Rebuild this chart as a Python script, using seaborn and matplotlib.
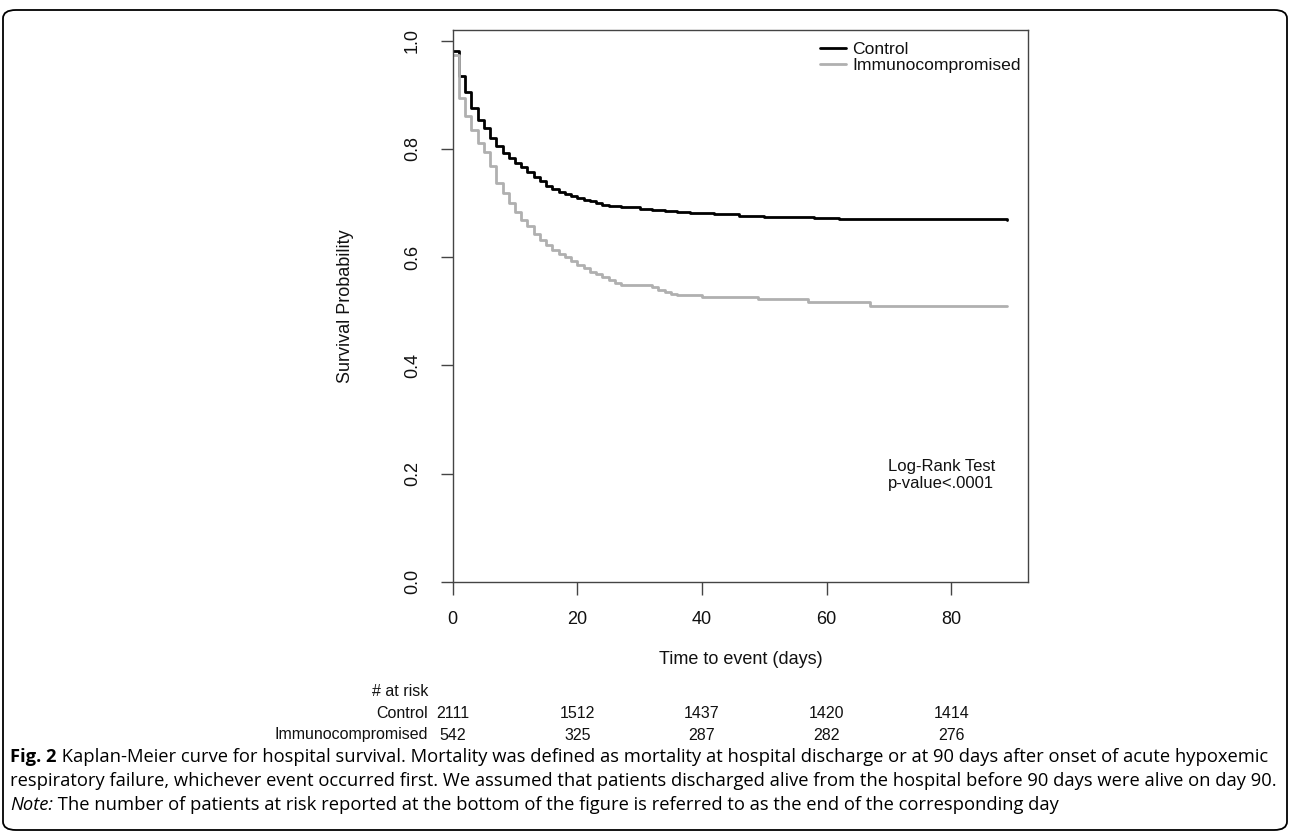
import numpy as np
import pandas as pd
import matplotlib
matplotlib.use("Agg")
import matplotlib.pyplot as plt
from matplotlib.patches import FancyBboxPatch
import seaborn as sns

# ---------------- data ----------------
control_t = [0, 1, 2, 3, 4, 5, 6, 7, 8, 9, 10, 11, 12, 13, 14, 15, 16, 17, 18, 19,
             20, 21, 22, 23, 24, 25, 26, 27, 28, 30, 32, 34, 36, 38, 42, 46, 50,
             54, 58, 62, 70, 89]
control_s = [0.981, 0.935, 0.906, 0.876, 0.854, 0.839, 0.820, 0.806, 0.793, 0.783,
             0.774, 0.766, 0.758, 0.749, 0.740, 0.731, 0.726, 0.721, 0.717, 0.714,
             0.710, 0.706, 0.703, 0.700, 0.697, 0.695, 0.694, 0.693, 0.692, 0.689,
             0.687, 0.686, 0.684, 0.681, 0.679, 0.677, 0.675, 0.674, 0.672, 0.671,
             0.670, 0.669]

immuno_t = [0, 1, 2, 3, 4, 5, 6, 7, 8, 9, 10, 11, 12, 13, 14, 15, 16, 17, 18, 19,
            20, 21, 22, 23, 24, 25, 26, 27, 32, 33, 34, 35, 36, 40, 49, 57, 67, 89]
immuno_s = [0.973, 0.894, 0.861, 0.836, 0.811, 0.795, 0.769, 0.738, 0.718, 0.701,
            0.684, 0.669, 0.657, 0.643, 0.632, 0.623, 0.613, 0.606, 0.600, 0.592,
            0.586, 0.580, 0.573, 0.569, 0.563, 0.558, 0.553, 0.549, 0.544, 0.539,
            0.535, 0.531, 0.530, 0.527, 0.523, 0.518, 0.510, 0.510]

group_names = ["Control", "Immunocompromised"]
x_ticks = [0, 20, 40, 60, 80]
y_ticks = [0.0, 0.2, 0.4, 0.6, 0.8, 1.0]
risk_control = [2111, 1512, 1437, 1420, 1414]
risk_immuno = [542, 325, 287, 282, 276]

caption1_bold = "Fig. 2"
caption1 = (" Kaplan-Meier curve for hospital survival. Mortality was defined as mortality "
            "at hospital discharge or at 90 days after onset of acute hypoxemic")
caption2 = ("respiratory failure, whichever event occurred first. We assumed that patients "
            "discharged alive from the hospital before 90 days were alive on day 90.")
caption3_it = "Note:"
caption3 = (" The number of patients at risk reported at the bottom of the figure is "
            "referred to as the end of the corresponding day")

# ---------------- style ----------------
sns.set_theme(style="white")
plt.rcParams["font.family"] = ["Liberation Sans", "DejaVu Sans"]

W, H = 1290, 833
fig = plt.figure(figsize=(W / 100, H / 100), dpi=100)

def fx(px):
    return px / W

def fy(py):
    return 1 - py / H

ax_l, ax_r, ax_t, ax_b = 452.7, 1028, 30, 581.7
ax = fig.add_axes([fx(ax_l), fy(ax_b), fx(ax_r - ax_l), (ax_b - ax_t) / H])

df_c = pd.DataFrame({"time": control_t, "surv": control_s})
df_i = pd.DataFrame({"time": immuno_t, "surv": immuno_s})

sns.lineplot(data=df_c, x="time", y="surv", ax=ax, color="#000000", lw=2.0,
             drawstyle="steps-post", estimator=None, label=group_names[0])
sns.lineplot(data=df_i, x="time", y="surv", ax=ax, color="#b0b0b0", lw=2.0,
             drawstyle="steps-post", estimator=None, label=group_names[1])

ax.set_xlim(0, 92.3)
ax.set_ylim(0, 1.02)
ax.set_xticks(x_ticks)
ax.set_yticks(y_ticks)
ax.set_xticklabels([str(v) for v in x_ticks])
ax.set_yticklabels([f"{v:.1f}" for v in y_ticks], rotation=90, va="center")
ax.tick_params(axis="both", which="major", direction="out", length=9,
               width=1.0, color="#444444", labelsize=13, labelcolor="#111111",
               bottom=True, left=True)
ax.tick_params(axis="x", pad=12)
ax.tick_params(axis="y", pad=14)
for sp in ax.spines.values():
    sp.set_color("#444444")
    sp.set_linewidth(1.0)
ax.set_xlabel("")
ax.set_ylabel("")

fig.text(fx(346), fy((ax_t + ax_b) / 2), "Survival Probability", rotation=90,
         ha="center", va="center", fontsize=13, color="#111111")
fig.text(fx((ax_l + ax_r) / 2), fy(660), "Time to event (days)", ha="center",
         va="center", fontsize=13, color="#111111")

leg = ax.legend(loc="upper right", frameon=False, fontsize=12.6,
                handlelength=1.5, handletextpad=0.35, labelspacing=0.05,
                borderpad=0.0, borderaxespad=0.0,
                bbox_to_anchor=((1021 - ax_l) / (ax_r - ax_l), 1 - (42 - ax_t) / (ax_b - ax_t)))
for t in leg.get_texts():
    t.set_color("#111111")

fig.text(fx(888), fy(475), "Log-Rank Test\np-value<.0001", fontsize=12,
         color="#111111", ha="left", va="center", linespacing=1.15)

# ---------------- numbers at risk ----------------
fig.text(fx(428), fy(692), "# at risk", ha="right", va="center", fontsize=11.5, color="#111111")
fig.text(fx(428), fy(713), group_names[0], ha="right", va="center", fontsize=11.5, color="#111111")
fig.text(fx(428), fy(735), group_names[1], ha="right", va="center", fontsize=11.5, color="#111111")
for xt, rc, ri in zip(x_ticks, risk_control, risk_immuno):
    xp = ax.transData.transform((xt, 0))[0]
    fig.text(xp / W, fy(713), str(rc), ha="center", va="center", fontsize=11.5, color="#111111")
    fig.text(xp / W, fy(735), str(ri), ha="center", va="center", fontsize=11.5, color="#111111")

# ---------------- caption ----------------
cap_font = ["Open Sans", "DejaVu Sans"]
fig.canvas.draw()
renderer = fig.canvas.get_renderer()

# fit the caption size so that the second line spans the figure width
probe = fig.text(0, 0, caption2, fontsize=10, family=cap_font)
pw = probe.get_window_extent(renderer).width
probe.remove()
cap_size = 10 * (1270 / pw)

tb = fig.text(fx(10), fy(757), caption1_bold, fontsize=cap_size, family=cap_font,
              weight="bold", va="center", ha="left", color="#000000")
bb = tb.get_window_extent(renderer)
fig.text(bb.x1 / W, fy(757), caption1, fontsize=cap_size, family=cap_font,
         va="center", ha="left", color="#000000")
fig.text(fx(10), fy(781), caption2, fontsize=cap_size, family=cap_font,
         va="center", ha="left", color="#000000")
ti = fig.text(fx(10), fy(805), caption3_it, fontsize=cap_size, family=cap_font,
              style="italic", va="center", ha="left", color="#000000")
bb = ti.get_window_extent(renderer)
fig.text(bb.x1 / W, fy(805), caption3, fontsize=cap_size, family=cap_font,
         va="center", ha="left", color="#000000")

# ---------------- outer rounded frame ----------------
frame = FancyBboxPatch((fx(3), fy(830)), fx(1284), (830 - 10) / H,
                       boxstyle="round,pad=0,rounding_size=0.01",
                       transform=fig.transFigure, fill=False, ec="#000000", lw=1.3)
fig.patches.append(frame)

fig.savefig("out.png", dpi=100)
